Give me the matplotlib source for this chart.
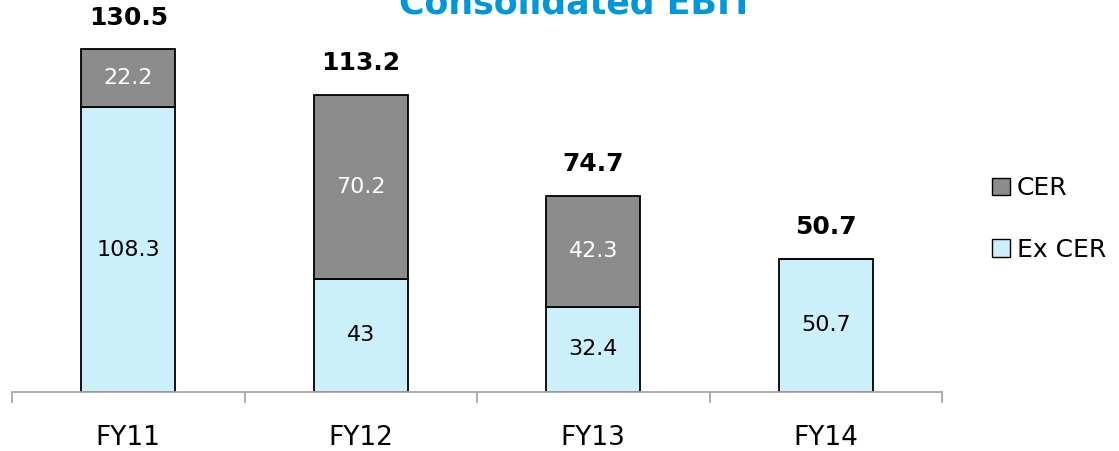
import matplotlib
matplotlib.use("Agg")
import matplotlib.pyplot as plt
from matplotlib.patches import Patch
import numpy as np

categories = ["FY11", "FY12", "FY13", "FY14"]
ex_cer = [108.3, 43, 32.4, 50.7]
cer = [22.2, 70.2, 42.3, 0]
totals = [130.5, 113.2, 74.7, 50.7]

c_ex = "#CCEFFC"
c_cer = "#8C8C8C"

fig = plt.figure(figsize=(11.19, 4.51), dpi=100)
ax = fig.add_axes([12/1119, 1-392/451, 930/1119, 392/451])
x = np.arange(len(categories))
w = 0.405
ax.bar(x, ex_cer, w, color=c_ex, edgecolor="black", linewidth=1.3, zorder=2)
ax.bar(x, cer, w, bottom=ex_cer, color=c_cer, edgecolor="black", linewidth=1.3, zorder=2)

for i in range(len(categories)):
    ax.text(x[i], ex_cer[i]/2, f"{ex_cer[i]:g}", ha="center", va="center", fontsize=16, color="black")
    if cer[i] > 0:
        ax.text(x[i], ex_cer[i] + cer[i]/2, f"{cer[i]:g}", ha="center", va="center", fontsize=16, color="white")
    ax.annotate(f"{totals[i]:g}", (x[i], totals[i]), xytext=(0, 14), textcoords="offset points",
                ha="center", va="bottom", fontsize=18, fontweight="bold")

ax.set_xlim(-0.5, len(categories) - 0.5)
ax.set_ylim(0, 392/2.628)
for s in ["top", "right", "left"]:
    ax.spines[s].set_visible(False)
ax.spines["bottom"].set_color("#A6A6A6")
ax.spines["bottom"].set_linewidth(1.3)
ax.set_yticks([])
ax.set_xticks(np.arange(-0.5, len(categories), 1.0))
ax.set_xticklabels([])
ax.set_xticks(x, minor=True)
ax.set_xticklabels(categories, minor=True, fontsize=19)
ax.tick_params(axis="x", which="major", length=8, width=1.3, color="#A6A6A6", direction="out")
ax.tick_params(axis="x", which="minor", length=0, pad=24)

fig.text(576/1119, 1-14/451, "Consolidated EBIT", ha="center", va="baseline",
         fontsize=25, fontweight="bold", color="#0096DB")

handles = [Patch(facecolor=c_cer, edgecolor="black", label="CER"),
           Patch(facecolor=c_ex, edgecolor="black", label="Ex CER")]
fig.legend(handles=handles, loc="center left", bbox_to_anchor=(982/1119, 1-219/451),
           frameon=False, fontsize=18, handlelength=0.7, handleheight=0.7,
           handletextpad=0.3, labelspacing=1.5, borderaxespad=0)

fig.savefig("out.png", dpi=100)
